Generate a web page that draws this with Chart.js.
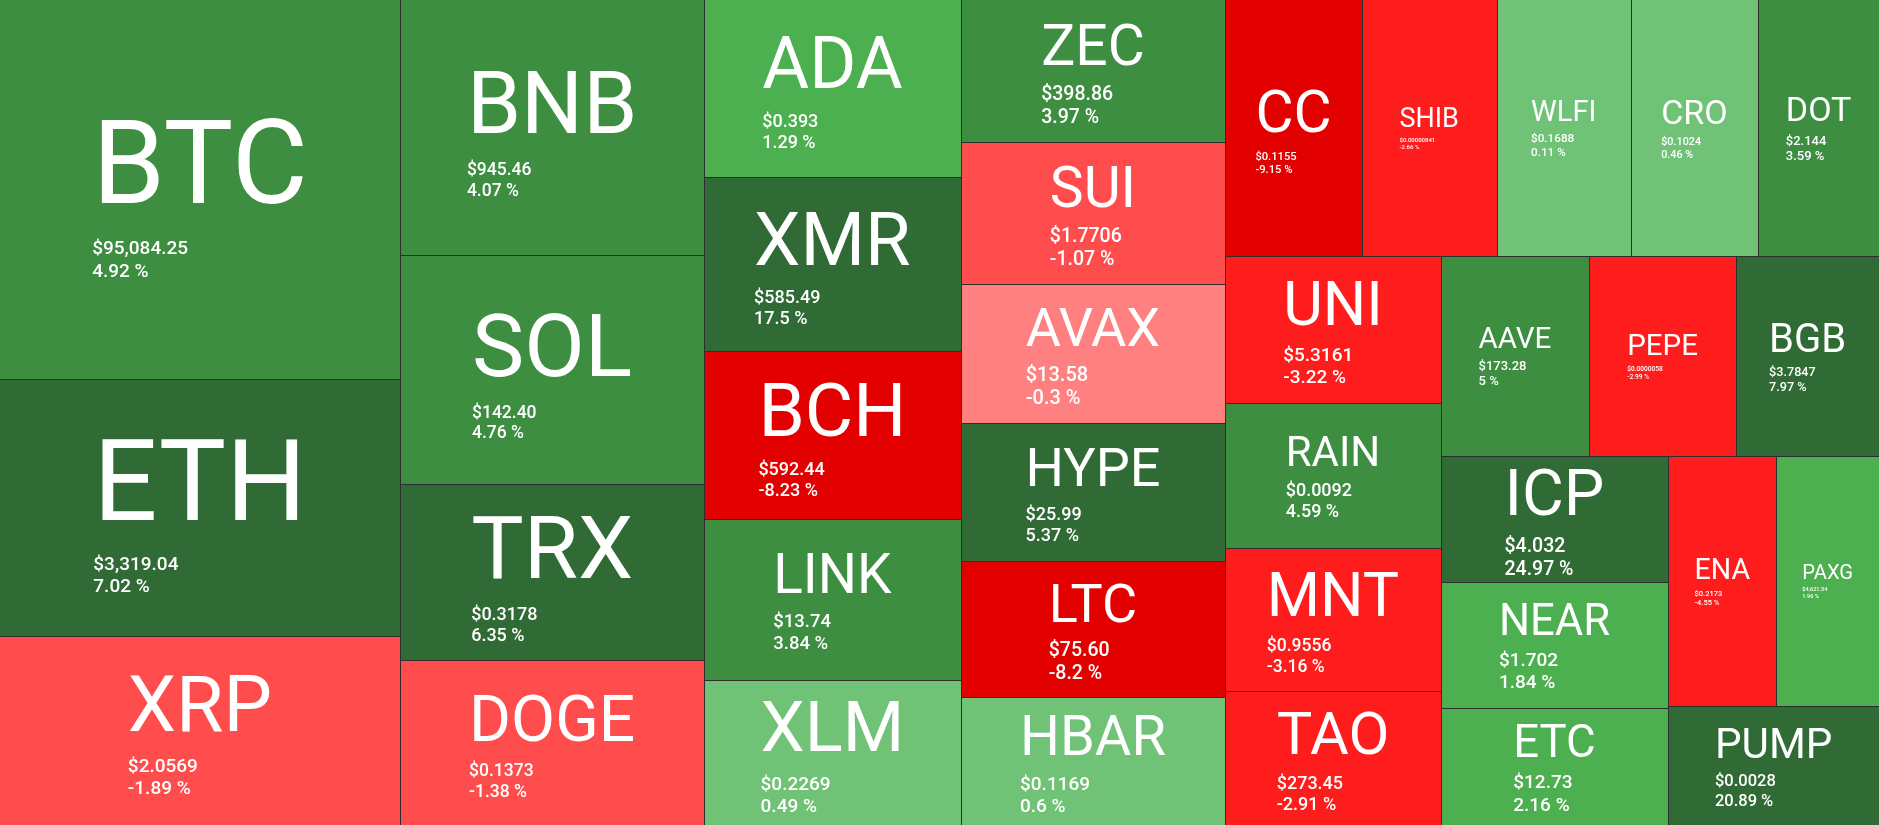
<!DOCTYPE html>
<html>
<head>
<meta charset="utf-8">
<script src="https://cdn.jsdelivr.net/npm/chart.js@4.4.1/dist/chart.umd.min.js"></script>
<style>
html,body{margin:0;padding:0;background:#ffffff;overflow:hidden}
#wrap{position:relative;width:1879px;height:825px}
</style>
</head>
<body>
<div id="wrap"><canvas id="c"></canvas></div>
<script>
// ---------- data ----------
const symbols = ['BTC','ETH','XRP','BNB','SOL','TRX','DOGE','ADA','XMR','BCH','LINK','XLM','ZEC','SUI','AVAX','HYPE','LTC','HBAR','CC','SHIB','WLFI','CRO','DOT','UNI','RAIN','MNT','TAO','AAVE','PEPE','BGB','ICP','NEAR','ETC','ENA','PAXG','PUMP'];
const tileValues = [151.6,102.9,75.5,77.7,69.6,53.6,50.1,45.3,44.7,43.1,41.2,37.2,37.7,37.6,36.8,36.4,36.1,33.8,34.9,34.5,34.3,32.6,30.9,31.8,31.1,30.8,28.9,29.7,29.4,28.6,28.8,28.5,26.7,27.1,25.7,25.0];
const prices = ['$95,084.25','$3,319.04','$2.0569','$945.46','$142.40','$0.3178','$0.1373','$0.393','$585.49','$592.44','$13.74','$0.2269','$398.86','$1.7706','$13.58','$25.99','$75.60','$0.1169','$0.1155','$0.00000841','$0.1688','$0.1024','$2.144','$5.3161','$0.0092','$0.9556','$273.45','$173.28','$0.0000058','$3.7847','$4.032','$1.702','$12.73','$0.2173','$4,621.54','$0.0028'];
const changes = [4.92,7.02,-1.89,4.07,4.76,6.35,-1.38,1.29,17.5,-8.23,3.84,0.49,3.97,-1.07,-0.3,5.37,-8.2,0.6,-9.15,-2.66,0.11,0.46,3.59,-3.22,4.59,-3.16,-2.91,5,-2.99,7.97,24.97,1.84,2.16,-4.55,1.96,20.89];

// ---------- styles ----------
// label font sizes in px: [symbol, price/percent]
const labelFonts = {
  BTC:[117,19], ETH:[113,19], XRP:[77,19], BNB:[87,17.5], SOL:[88,17.5], TRX:[88,18], DOGE:[64,17.5],
  ADA:[72,18], XMR:[74,18], BCH:[74.5,18], LINK:[55,18.5], XLM:[70.5,19],
  ZEC:[57,19.5], SUI:[57,19.5], AVAX:[54,20], HYPE:[54,18], LTC:[54,19.5], HBAR:[56,19],
  CC:[58.6,11.2], SHIB:[27,6], WLFI:[29,11.7], CRO:[34,10.8], DOT:[34,13],
  UNI:[61,19], RAIN:[42,18], MNT:[61,17.5], TAO:[59.5,18],
  AAVE:[29.5,13], PEPE:[29.5,6.6], BGB:[40,12.7],
  ICP:[64.3,19.5], NEAR:[43.6,19], ETC:[45.5,19], ENA:[28.6,7.5], PAXG:[20.2,5.6], PUMP:[42.2,16.5]
};
const FONT_FAMILY = 'Roboto, "Noto Sans", sans-serif';

function tileColor(c) {
  if (c > 5) return '#306b35';
  if (c >= 3) return '#3e8e42';
  if (c >= 1) return '#4caf50';
  if (c >= 0) return '#6fc276';
  if (c > -1) return '#ff8080';
  if (c > -2) return '#ff4d4d';
  if (c > -5) return '#ff1c1c';
  return '#e30000';
}

// ---------- squarified layout (golden-ratio style, in given order) ----------
function squarifyLayout(values, x0, y0, x1, y1, ratio) {
  const n = values.length, out = new Array(n);
  let value = values.reduce((a, b) => a + b, 0);
  let i0 = 0, i1 = 0;
  while (i0 < n) {
    const dx = x1 - x0, dy = y1 - y0;
    let sumValue, minValue, maxValue, nodeValue;
    do sumValue = values[i1++]; while (!sumValue && i1 < n);
    minValue = maxValue = sumValue;
    const alpha = Math.max(dy / dx, dx / dy) / (value * ratio);
    let beta = sumValue * sumValue * alpha;
    let minRatio = Math.max(maxValue / beta, beta / minValue);
    for (; i1 < n; ++i1) {
      sumValue += nodeValue = values[i1];
      if (nodeValue < minValue) minValue = nodeValue;
      if (nodeValue > maxValue) maxValue = nodeValue;
      beta = sumValue * sumValue * alpha;
      const newRatio = Math.max(maxValue / beta, beta / minValue);
      if (newRatio > minRatio) { sumValue -= nodeValue; break; }
      minRatio = newRatio;
    }
    if (dx < dy) {
      const yb = value ? y0 + dy * sumValue / value : y1;
      const k = sumValue ? dx / sumValue : 0;
      let xx = x0;
      for (let i = i0; i < i1; i++) { const w = values[i] * k; out[i] = {x: xx, y: y0, w: w, h: yb - y0}; xx += w; }
      y0 = yb;
    } else {
      const xb = value ? x0 + dx * sumValue / value : x1;
      const k = sumValue ? dy / sumValue : 0;
      let yy = y0;
      for (let i = i0; i < i1; i++) { const h = values[i] * k; out[i] = {x: x0, y: yy, w: xb - x0, h: h}; yy += h; }
      x0 = xb;
    }
    value -= sumValue;
    i0 = i1;
  }
  return out;
}

// ---------- custom Chart.js element + controller ----------
class TileElement extends Chart.Element {
  static id = 'tile';
  static defaults = { backgroundColor: '#888888', borderColor: '#2e2e2e', borderWidth: 1 };
  constructor(cfg) {
    super();
    this.x = 0; this.y = 0; this.w = 0; this.h = 0;
    if (cfg) Object.assign(this, cfg);
  }
  draw(ctx) {
    if (!this.options || !(this.w > 0) || !(this.h > 0)) return;
    const L = Math.round(this.x), T = Math.round(this.y);
    const R = Math.round(this.x + this.w), B = Math.round(this.y + this.h);
    ctx.fillStyle = this.options.backgroundColor;
    ctx.fillRect(L, T, R - L, B - T);
  }
  inRange(mx, my) { return mx >= this.x && mx <= this.x + this.w && my >= this.y && my <= this.y + this.h; }
  inXRange(mx) { return mx >= this.x && mx <= this.x + this.w; }
  inYRange(my) { return my >= this.y && my <= this.y + this.h; }
  getCenterPoint() { return {x: this.x + this.w / 2, y: this.y + this.h / 2}; }
  tooltipPosition() { return this.getCenterPoint(); }
}

class TilemapController extends Chart.DatasetController {
  static id = 'tilemap';
  static defaults = { datasetElementType: false, dataElementType: 'tile' };
  update(mode) {
    const meta = this._cachedMeta;
    this.updateElements(meta.data, 0, meta.data.length, mode);
  }
  updateElements(els, start, count, mode) {
    const meta = this._cachedMeta;
    const xs = meta.xScale, ys = meta.yScale;
    const ds = this.getDataset();
    const left = xs.getPixelForValue(xs.min), right = xs.getPixelForValue(xs.max);
    const top = ys.getPixelForValue(ys.max), bottom = ys.getPixelForValue(ys.min);
    const rects = squarifyLayout(ds.data, left, top, right, bottom, ds.ratio || 1.618);
    for (let i = start; i < start + count; i++) {
      const r = rects[i] || {x: 0, y: 0, w: 0, h: 0};
      Object.assign(els[i], {x: r.x, y: r.y, w: r.w, h: r.h, options: this.resolveDataElementOptions(i, mode)});
    }
  }
  draw() {
    const ctx = this._ctx, meta = this._cachedMeta, els = meta.data, ds = this.getDataset();
    const area = this.chart.chartArea;
    ctx.save();
    for (const el of els) el.draw(ctx);
    for (const el of els) {
      if (!el.options) continue;
      const L = Math.round(el.x), T = Math.round(el.y);
      const R = Math.round(el.x + el.w), B = Math.round(el.y + el.h);
      ctx.fillStyle = el.options.borderColor;
      const bw = el.options.borderWidth;
      if (L > area.left + 0.5) ctx.fillRect(L, T, bw, B - T);
      if (T > area.top + 0.5) ctx.fillRect(L, T, R - L, bw);
    }
    ctx.fillStyle = '#ffffff';
    ctx.textAlign = 'left';
    ctx.textBaseline = 'alphabetic';
    els.forEach((el, i) => {
      const sym = ds.symbols[i];
      const f = ds.labelFonts[sym] || [20, 10];
      const sf = f[0], pf = f[1];
      ctx.font = '400 ' + sf + 'px ' + FONT_FAMILY;
      const symW = ctx.measureText(sym).width;
      const lhS = sf * 1.172, lhP = pf * 1.172, gap = 2 + 0.025 * sf;
      const blockH = lhS + gap + 2 * lhP;
      const cx = el.x + el.w / 2, cy = el.y + el.h / 2 - 1.5;
      const topY = cy - blockH / 2;
      const lx = cx - symW / 2;
      ctx.fillText(sym, lx, topY + 0.928 * sf);
      ctx.font = '500 ' + pf + 'px ' + FONT_FAMILY;
      ctx.fillText(ds.priceLabels[i], lx, topY + lhS + gap + 0.928 * pf);
      ctx.fillText(ds.changes[i] + ' %', lx, topY + lhS + gap + lhP + 0.928 * pf);
    });
    ctx.restore();
  }
}

Chart.register(TileElement, TilemapController);

new Chart(document.getElementById('c'), {
  type: 'tilemap',
  data: {
    datasets: [{
      data: tileValues,
      symbols: symbols,
      priceLabels: prices,
      changes: changes,
      labelFonts: labelFonts,
      ratio: 1.74,
      backgroundColor: (ctx) => tileColor(changes[ctx.dataIndex]),
      borderColor: '#2e2e2e',
      borderWidth: 1
    }]
  },
  options: {
    responsive: true,
    maintainAspectRatio: false,
    animation: false,
    events: [],
    layout: { padding: 0 },
    scales: {
      x: { type: 'linear', min: 0, max: 1, display: false },
      y: { type: 'linear', min: 0, max: 1, display: false }
    },
    plugins: { legend: { display: false }, tooltip: { enabled: false }, title: { display: false } }
  }
});
</script>
</body>
</html>
